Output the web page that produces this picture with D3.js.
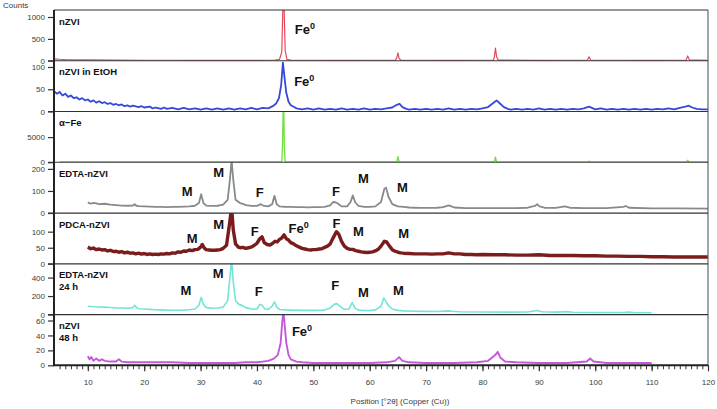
<!DOCTYPE html>
<html>
<head>
<meta charset="utf-8">
<script src="https://cdn.jsdelivr.net/npm/d3@7"></script>
<style>
  html, body { margin: 0; padding: 0; background: #fff; }
  svg { display: block; font-family: "Liberation Sans", Arial, sans-serif; }
  .tick-label { font-size: 8px; fill: #3a3a3a; }
  .panel-name { font-size: 9.5px; font-weight: bold; fill: #111; }
  .mark { font-size: 13px; font-weight: bold; fill: #111; }
</style>
</head>
<body>
<svg id="chart" width="717" height="409"></svg>
<script>
// XRD patterns, one stacked panel per sample. Values are [2θ, counts].

const panelNames = [['nZVI'], ['nZVI in EtOH'], ['α−Fe'], ['EDTA-nZVI'], ['PDCA-nZVI'], ['EDTA-nZVI', '24 h'], ['nZVI', '48 h']];
const panelColors = ['#e8475c', '#3548d8', '#6ee03a', '#858b8b', '#7a1c1c', '#72e6d4', '#c457dc'];
const panelWidths = [1.2, 1.8, 1.3, 1.8, 3.4, 1.6, 1.9];
const yMax = [1160, 114, 10080, 230, 158, 549, 68];
const yTicks = [[0, 500, 1000], [0, 50, 100], [0, 5000], [0, 100, 200], [0, 50, 100], [0, 200, 400], [0, 20, 40, 60]];
const xTicks = d3.range(10, 121, 10);
const xMinorTicks = d3.range(5, 121, 1);

const nzvi = [
  [4, 45], [5, 35], [6, 28], [8, 20], [10, 18], [15, 14], [20, 12], [30, 10], [40, 10], [43, 12], [44, 30],
  [44.4, 200], [44.6, 1250], [44.8, 1250], [45.0, 250], [45.3, 30], [46, 14], [55, 10], [64.5, 12], [64.8, 60],
  [65.0, 180], [65.2, 60], [65.5, 12], [75, 10], [81.9, 14], [82.1, 80], [82.3, 290], [82.5, 90], [82.8, 14],
  [90, 10], [98.6, 12], [98.9, 90], [99.2, 12], [110, 10], [116.1, 14], [116.4, 110], [116.7, 20], [120, 10]
];

const nzviEtoh = [
  [4, 46], [4.5, 40], [5, 44], [5.5, 36], [6, 40], [6.5, 33], [7, 36], [7.5, 30], [8, 32], [8.5, 27], [9, 30],
  [9.5, 25], [10, 27], [10.5, 22], [11, 25], [11.5, 20], [12, 23], [12.5, 19], [13, 21], [13.5, 17], [14, 19],
  [14.5, 15], [15, 17], [15.5, 14], [16, 16], [16.5, 12], [17, 14], [17.5, 11], [18, 13], [19, 10], [19.5, 12],
  [20, 9], [21, 11], [21.5, 7], [22, 9], [23, 6], [23.5, 9], [24, 6], [25, 8], [26, 5], [27, 8], [28, 5], [29, 7],
  [30, 4], [31, 7], [32, 4], [33, 7], [34, 4], [35, 7], [36, 4], [37, 7], [38, 5], [39, 8], [40, 5], [41, 8],
  [42, 7], [42.8, 12], [43.4, 18], [43.9, 30], [44.3, 60], [44.6, 110], [44.9, 75], [45.2, 42], [45.6, 22],
  [46, 14], [46.6, 10], [47, 7], [48, 5], [49, 7], [50, 4], [51, 7], [52, 4], [53, 6], [54, 4], [55, 7], [56, 4],
  [57, 6], [58, 4], [59, 7], [60, 4], [61, 6], [62, 5], [63, 7], [64, 9], [64.8, 15], [65.3, 17], [65.8, 10],
  [66.5, 6], [67, 4], [68, 6], [69, 4], [70, 6], [71, 4], [72, 6], [73, 4], [74, 7], [75, 4], [76, 6], [77, 4],
  [78, 6], [79, 5], [80, 7], [81, 10], [81.8, 18], [82.5, 25], [83.1, 18], [83.8, 10], [84.5, 6], [85, 4],
  [86, 6], [87, 4], [88, 6], [89, 4], [90, 7], [91, 4], [92, 6], [93, 4], [94, 6], [95, 4], [96, 6], [97, 5],
  [98, 7], [98.9, 11], [99.6, 7], [100, 5], [101, 7], [102, 4], [103, 6], [104, 4], [105, 6], [106, 4], [107, 6],
  [108, 4], [109, 6], [110, 4], [111, 6], [112, 5], [113, 7], [114, 5], [115, 8], [116, 11], [116.6, 13],
  [117.2, 9], [118, 6], [119, 5], [120, 5]
];

const alphaFe = [
  [5, 80], [44.4, 80], [44.55, 4000], [44.65, 11000], [44.75, 11000], [44.85, 3000], [45, 80], [64.8, 80],
  [65, 1100], [65.2, 80], [82.1, 80], [82.3, 1000], [82.5, 80], [98.8, 80], [98.9, 250], [99.0, 80], [116.2, 80],
  [116.4, 400], [116.6, 80], [120, 80]
];

const edtaNzvi = [
  [10, 48], [10.5, 42], [11, 46], [11.5, 44], [12, 40], [13, 42], [14, 38], [15, 36], [16, 34], [17, 33], [18, 34],
  [18.3, 40], [18.6, 33], [19, 31], [20, 30], [21, 29], [22, 28], [23, 28], [24, 27], [25, 28], [26, 28], [27, 29],
  [28, 30], [29, 33], [29.7, 45], [30.1, 85], [30.5, 45], [31, 34], [32, 32], [33, 33], [34, 38], [34.8, 60],
  [35.2, 150], [35.5, 240], [35.8, 150], [36.2, 60], [37, 45], [37.5, 42], [38, 36], [39, 32], [40, 32], [40.3, 36],
  [40.7, 40], [41.1, 34], [42, 30], [42.7, 40], [43.1, 78], [43.5, 40], [44, 30], [45, 28], [46, 28], [47, 27],
  [48, 27], [49, 26], [50, 27], [51, 27], [52, 28], [53, 35], [53.5, 50], [54, 48], [54.4, 42], [55, 30], [56, 30],
  [56.6, 50], [57.0, 80], [57.4, 50], [58, 32], [59, 28], [60, 28], [61, 30], [62, 50], [62.6, 110], [62.9, 115],
  [63.3, 75], [64, 40], [65, 30], [66, 28], [67, 25], [68, 24], [69, 23], [70, 23], [72, 24], [73, 27], [74, 35],
  [74.5, 30], [75, 25], [77, 22], [80, 22], [83, 22], [86, 22], [88, 24], [89.3, 32], [89.7, 40], [90.1, 30],
  [91, 24], [93, 23], [94.6, 30], [95.5, 24], [98, 22], [102, 22], [105, 28], [105.4, 32], [106, 24], [110, 21],
  [115, 21], [120, 20]
];

const pdcaNzvi = [
  [10, 52], [10.5, 47], [11, 49], [11.5, 44], [12, 46], [12.5, 43], [13, 44], [13.5, 40], [14, 42], [14.5, 38],
  [15, 39], [15.5, 36], [16, 38], [16.5, 34], [17, 36], [17.5, 33], [18, 34], [18.5, 31], [19, 33], [19.5, 30],
  [20, 32], [20.5, 29], [21, 31], [21.5, 29], [22, 30], [22.5, 29], [23, 31], [23.5, 30], [24, 32], [24.5, 31],
  [25, 34], [25.5, 33], [26, 37], [26.5, 36], [27, 40], [27.5, 39], [28, 43], [28.5, 41], [29, 44], [29.5, 45],
  [30, 52], [30.3, 60], [30.7, 48], [31, 44], [31.5, 43], [32, 42], [32.5, 42], [33, 43], [33.5, 44], [34, 48],
  [34.6, 58], [35.1, 120], [35.5, 175], [35.8, 105], [36.2, 62], [36.7, 52], [37, 50], [37.5, 51], [38, 48],
  [38.5, 50], [39, 52], [39.5, 57], [40, 64], [40.5, 78], [40.9, 84], [41.3, 66], [41.8, 60], [42.3, 58],
  [42.8, 64], [43.2, 70], [43.6, 68], [44, 76], [44.4, 80], [44.8, 90], [45.2, 78], [45.6, 74], [46, 66],
  [46.5, 62], [47, 56], [47.5, 52], [48, 48], [48.5, 46], [49, 44], [49.5, 43], [50, 44], [50.5, 44], [51, 46],
  [51.5, 47], [52, 51], [52.5, 55], [53, 62], [53.5, 80], [54.1, 100], [54.5, 92], [55, 70], [55.5, 55], [56, 48],
  [56.5, 45], [57, 45], [57.5, 41], [58, 39], [58.5, 37], [59, 36], [59.5, 35], [60, 36], [60.5, 37], [61, 40],
  [61.5, 45], [62, 55], [62.6, 70], [63, 68], [63.5, 55], [64, 44], [64.5, 39], [65, 36], [65.5, 34], [66, 33],
  [67, 32], [68, 31], [69, 31], [70, 31], [71, 30], [72, 31], [73, 31], [74, 34], [75, 31], [76, 31], [77, 29],
  [78, 29], [79, 28], [80, 29], [82, 28], [84, 28], [86, 27], [88, 27], [90, 28], [92, 26], [94, 26], [96, 26],
  [98, 25], [100, 25], [102, 24], [104, 24], [106, 23], [108, 23], [110, 22], [112, 22], [114, 21], [116, 21],
  [118, 21], [120, 21]
];

const edta24h = [
  [10, 90], [11, 85], [12, 82], [13, 80], [14, 76], [15, 72], [16, 70], [17, 68], [18, 75], [18.3, 100],
  [18.7, 70], [19, 62], [20, 60], [21, 56], [22, 52], [23, 50], [24, 48], [25, 46], [26, 46], [27, 48], [28, 52],
  [29, 60], [29.7, 100], [30.1, 185], [30.5, 110], [31, 75], [32, 68], [33, 70], [34, 80], [34.8, 150],
  [35.2, 400], [35.5, 600], [35.8, 350], [36.2, 150], [36.8, 110], [37.3, 100], [38, 75], [39, 60], [40, 60],
  [40.5, 110], [40.9, 100], [41.4, 60], [42, 55], [42.7, 90], [43.1, 138], [43.5, 80], [44, 55], [45, 50],
  [46, 48], [48, 45], [50, 45], [52, 48], [53, 70], [53.7, 110], [54.2, 118], [54.7, 90], [55.5, 55], [56.3, 60],
  [56.9, 128], [57.4, 70], [58, 48], [59, 44], [60, 44], [61, 50], [62, 90], [62.5, 180], [62.9, 140], [63.4, 90],
  [64, 60], [65, 45], [66, 40], [68, 36], [70, 34], [72, 33], [74, 40], [74.5, 35], [76, 30], [80, 28], [85, 26],
  [88, 28], [89.7, 44], [90.5, 30], [93, 26], [95, 32], [96, 25], [100, 22], [105, 22], [106, 26], [107, 20],
  [110, 20]
];

const nzvi48h = [
  [10, 12], [10.3, 8], [10.6, 11], [11, 6], [11.5, 9], [12, 6], [12.5, 8], [13, 6], [14, 5], [15, 5], [15.5, 8],
  [16, 5], [17, 4], [18, 4], [20, 4], [22, 4], [25, 4], [28, 3], [30, 3], [33, 3], [36, 3], [38, 4], [40, 4],
  [41, 5], [42, 6], [43, 9], [43.7, 14], [44.2, 30], [44.5, 60], [44.7, 72], [44.9, 55], [45.2, 30], [45.6, 14],
  [46, 8], [47, 5], [48, 4], [50, 3], [55, 3], [60, 3], [63, 4], [64.5, 6], [65.2, 11], [65.8, 6], [67, 4],
  [70, 3], [75, 3], [79, 4], [81, 6], [82.3, 14], [82.7, 18], [83.2, 10], [84, 5], [86, 4], [90, 3], [95, 3],
  [98.5, 5], [99.1, 9], [99.7, 5], [102, 3], [105, 3], [110, 3]
];

const series = [nzvi, nzviEtoh, alphaFe, edtaNzvi, pdcaNzvi, edta24h, nzvi48h];

// peak labels: [panel, text, 2θ, counts] (Fe labels carry a superscript 0)
const peakLabels = [
  [0, 'Fe', 46.7, 727], [1, 'Fe', 46.6, 67],
  [3, 'M', 27.6, 99], [3, 'M', 33.2, 186], [3, 'F', 40.5, 94], [3, 'F', 54.0, 100], [3, 'M', 58.9, 158], [3, 'M', 65.8, 117],
  [4, 'M', 28.5, 80], [4, 'M', 33.2, 123], [4, 'F', 39.6, 102], [4, 'Fe', 45.6, 111], [4, 'F', 54.1, 127], [4, 'M', 58.0, 102], [4, 'M', 66.0, 96],
  [5, 'M', 27.4, 264], [5, 'M', 33.1, 451], [5, 'F', 40.3, 256], [5, 'F', 53.9, 319], [5, 'M', 58.9, 245], [5, 'M', 65.1, 264],
  [6, 'Fe', 46.2, 46]
];

const plotLeft = 54, plotRight = 708, plotTop = 10, plotBottom = 365.3;
const bandH = (plotBottom - plotTop) / series.length;

const svg = d3.select('#chart');
const x = d3.scaleLinear().domain([4, 120]).range([plotLeft, plotRight]);

const defs = svg.append('defs');
const panels = series.map((data, i) => {
  const y0 = plotTop + i * bandH;
  const y = d3.scaleLinear().domain([0, yMax[i]]).range([y0 + bandH, y0]);
  defs.append('clipPath').attr('id', `clip${i}`)
    .append('rect').attr('x', plotLeft).attr('y', y0).attr('width', plotRight - plotLeft).attr('height', bandH);
  return { data, y, y0 };
});

// patterns
panels.forEach((p, i) => {
  const line = d3.line().x(d => x(d[0])).y(d => p.y(d[1]));
  svg.append('path')
    .datum(p.data)
    .attr('clip-path', `url(#clip${i})`)
    .attr('fill', 'none')
    .attr('stroke', panelColors[i])
    .attr('stroke-width', panelWidths[i])
    .attr('stroke-linejoin', 'round')
    .attr('d', line);
});

// frame and panel separators
svg.append('line').attr('x1', plotLeft).attr('x2', plotRight).attr('y1', plotTop).attr('y2', plotTop)
  .attr('stroke', '#333').attr('stroke-width', 1.2);
svg.append('line').attr('x1', plotRight).attr('x2', plotRight).attr('y1', plotTop).attr('y2', plotBottom)
  .attr('stroke', '#666').attr('stroke-width', 1.2);
panels.slice(1).forEach(p => {
  svg.append('line').attr('x1', plotLeft - 6).attr('x2', plotRight).attr('y1', p.y0).attr('y2', p.y0)
    .attr('stroke', '#333').attr('stroke-width', 1.2);
});

// left axes
panels.forEach((p, i) => {
  const ax = svg.append('g')
    .attr('transform', `translate(${plotLeft},0)`)
    .call(d3.axisLeft(p.y).tickValues(yTicks[i]).tickSize(6).tickPadding(3).tickFormat(d3.format('d')));
  ax.select('.domain').remove();
  ax.selectAll('line').attr('stroke', '#333').attr('stroke-width', 1.2);
  ax.selectAll('text').attr('class', 'tick-label').attr('font-family', null).attr('font-size', null);
});
svg.append('line').attr('x1', plotLeft).attr('x2', plotLeft).attr('y1', plotTop).attr('y2', plotBottom)
  .attr('stroke', '#222').attr('stroke-width', 2);

// bottom axis
const xAxis = svg.append('g')
  .attr('transform', `translate(0,${plotBottom})`)
  .call(d3.axisBottom(x).tickValues(xMinorTicks).tickSize(4).tickFormat(''));
xAxis.select('.domain').remove();
xAxis.selectAll('line').attr('stroke', '#333').attr('stroke-width', 1);
const xMajor = svg.append('g')
  .attr('transform', `translate(0,${plotBottom})`)
  .call(d3.axisBottom(x).tickValues(xTicks).tickSize(6).tickPadding(8).tickFormat(d3.format('d')));
xMajor.select('.domain').remove();
xMajor.selectAll('line').attr('stroke', '#333').attr('stroke-width', 1.2);
xMajor.selectAll('text').attr('class', 'tick-label').attr('font-family', null).attr('font-size', null);
svg.append('line').attr('x1', plotLeft - 1).attr('x2', plotRight).attr('y1', plotBottom).attr('y2', plotBottom)
  .attr('stroke', '#222').attr('stroke-width', 2);

// axis titles
svg.append('text').attr('class', 'tick-label').attr('x', 3).attr('y', 8).text('Counts');
svg.append('text').attr('class', 'tick-label')
  .attr('x', 400).attr('y', 404).attr('text-anchor', 'middle')
  .text('Position [°2θ] (Copper (Cu))');

// panel names
panels.forEach((p, i) => {
  const t = svg.append('text').attr('class', 'panel-name').attr('x', 59).attr('y', p.y0 + 14.5);
  panelNames[i].forEach((s, k) => t.append('tspan').attr('x', 59).attr('dy', k ? 12 : 0).text(s));
});

// peak labels
peakLabels.forEach(([i, label, tt, c]) => {
  const t = svg.append('text').attr('class', 'mark')
    .attr('x', x(tt)).attr('y', panels[i].y(c)).attr('dy', '0.36em');
  if (label === 'Fe') {
    t.attr('text-anchor', 'start');
    t.append('tspan').text('Fe');
    t.append('tspan').attr('dy', '-0.55em').attr('font-size', '9px').text('0');
  } else {
    t.attr('text-anchor', 'middle').text(label);
  }
});
</script>
</body>
</html>
